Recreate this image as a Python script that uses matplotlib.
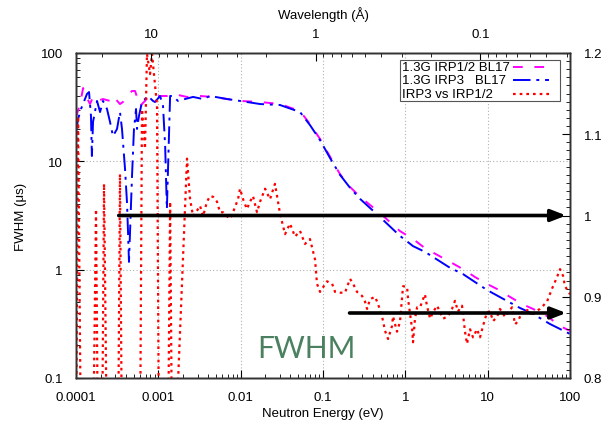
import numpy as np
import matplotlib
matplotlib.use("Agg")
import matplotlib.pyplot as plt
from matplotlib.lines import Line2D
from matplotlib.patches import Rectangle
from matplotlib.ticker import FixedLocator, MultipleLocator, FuncFormatter, NullFormatter

plt.rcParams['font.family'] = ['Liberation Sans', 'DejaVu Sans']

# 1.3G IRP1/2 BL17 (magenta dashed)
e_irp12 = [1.0e-4, 1.12e-4, 1.22e-4, 1.32e-4, 1.48e-4, 1.61e-4, 1.80e-4, 2.13e-4,
           2.59e-4, 2.81e-4, 3.42e-4, 3.72e-4, 4.16e-4, 4.79e-4, 5.21e-4, 5.99e-4,
           6.89e-4, 7.49e-4, 8.61e-4, 1.05e-3, 1.27e-3, 1.51e-3, 2.23e-3, 3.21e-3,
           4.62e-3, 6.83e-3, 9.82e-3, 1.72e-2, 3.01e-2, 5.26e-2, 6.95e-2, 9.20e-2,
           0.122, 0.161, 0.213, 0.282, 0.492, 0.861, 1.24, 1.73, 3.49, 5.02, 7.02,
           9.82, 13.0, 18.7, 26.1, 35.6, 52.6, 75.7, 100.0]
fwhm_irp12 = [25.6, 33.8, 47.5, 40.1, 33.8, 39.3, 36.1, 37.6,
              36.1, 40.1, 33.8, 35.3, 40.1, 44.6, 44.6, 32.4,
              36.1, 39.3, 39.3, 40.1, 40.1, 41.9, 39.3, 40.1,
              39.3, 37.6, 36.1, 35.3, 33.8, 29.1, 22.1, 16.1,
              11.0, 7.6, 5.8, 4.7, 3.33, 2.27, 1.92, 1.58, 1.18, 1.01, 0.855,
              0.738, 0.663, 0.560, 0.482, 0.434, 0.373, 0.302, 0.272]

# 1.3G IRP3 BL17 (blue dash-dot)
e_irp3 = [1.0e-4, 1.06e-4, 1.15e-4, 1.36e-4, 1.44e-4, 1.52e-4, 1.56e-4, 1.61e-4,
          1.80e-4, 1.96e-4, 2.13e-4, 2.38e-4, 2.59e-4, 2.81e-4, 3.15e-4, 3.42e-4,
          3.62e-4, 3.94e-4, 4.16e-4, 4.28e-4, 4.40e-4, 4.79e-4, 5.06e-4, 5.36e-4,
          5.51e-4, 5.82e-4, 6.33e-4, 6.89e-4, 7.49e-4, 8.61e-4, 9.11e-4, 1.05e-3,
          1.14e-3, 1.21e-3, 1.27e-3, 1.39e-3, 1.51e-3, 1.73e-3, 2.11e-3, 2.64e-3,
          3.49e-3, 4.25e-3, 6.83e-3, 9.82e-3, 1.72e-2, 3.01e-2, 5.26e-2, 6.95e-2,
          9.20e-2, 0.122, 0.161, 0.213, 0.282, 0.492, 0.861, 1.24, 1.73, 3.49,
          5.02, 9.82, 17.2, 24.7, 35.6, 57.2, 100.0]
fwhm_irp3 = [18.7, 24.6, 30.4, 41.9, 43.6, 26.2, 11.2, 23.1,
             36.1, 28.5, 36.1, 30.4, 23.1, 17.1, 19.9, 28.5,
             19.9, 8.5, 4.2, 2.27, 1.18, 7.3, 19.9, 30.4,
             19.9, 26.2, 35.3, 37.6, 40.1, 36.1, 35.3, 40.1,
             32.4, 13.9, 3.63, 40.1, 40.1, 36.1, 37.6, 39.3,
             37.6, 40.1, 37.6, 36.1, 33.8, 33.1, 28.5, 21.6,
             15.7, 10.7, 7.5, 5.7, 4.5, 3.06, 2.05, 1.65, 1.46, 1.04,
             0.91, 0.649, 0.514, 0.443, 0.390, 0.315, 0.255]

# IRP3 vs IRP1/2 ratio (red dotted, right axis)
e_ratio = [1.0e-4, 1.06e-4, 1.15e-4, 1.61e-4, 1.75e-4, 1.85e-4, 2.07e-4, 2.19e-4,
           2.38e-4, 3.24e-4, 3.42e-4, 3.62e-4, 5.99e-4, 6.33e-4, 6.89e-4, 7.28e-4,
           7.93e-4, 8.38e-4, 9.64e-4, 1.02e-3, 1.31e-3, 1.39e-3, 1.47e-3, 1.59e-3,
           2.23e-3, 2.43e-3, 2.64e-3, 2.95e-3, 3.21e-3, 3.49e-3, 3.90e-3, 4.25e-3,
           4.62e-3, 5.16e-3, 5.61e-3, 6.11e-3, 6.83e-3, 7.43e-3, 8.07e-3, 9.29e-3,
           9.82e-3, 1.07e-2, 1.19e-2, 1.30e-2, 1.41e-2, 1.58e-2, 1.72e-2, 1.98e-2,
           2.27e-2, 2.61e-2, 3.01e-2, 3.46e-2, 3.97e-2, 4.57e-2, 5.26e-2, 6.04e-2,
           6.95e-2, 8.00e-2, 8.45e-2, 9.20e-2, 0.112, 0.129, 0.140, 0.161, 0.185,
           0.213, 0.232, 0.259, 0.298, 0.324, 0.343, 0.373, 0.429, 0.466, 0.521,
           0.567, 0.617, 0.689, 0.708, 0.792, 0.861, 0.938, 1.05, 1.08, 1.21, 1.24,
           1.31, 1.39, 1.51, 1.64, 1.73, 1.83, 2.00, 2.17, 2.43, 2.64, 2.87, 3.30,
           3.69, 4.01, 4.36, 4.88, 5.31, 5.61, 6.11, 6.64, 7.43, 8.07, 8.78, 9.82,
           10.7, 11.6, 13.0, 14.1, 16.3, 17.7, 19.8, 21.5, 23.4, 26.1, 28.4, 30.9,
           34.6, 37.6, 43.3, 52.6, 60.5, 69.5, 75.7, 82.2, 86.9, 94.6, 100.0]
ratio = [0.70, 1.122, 0.70, 0.70, 1.008, 0.70, 0.70, 1.039,
         0.70, 0.70, 1.051, 0.70, 0.70, 1.131, 1.082, 1.199,
         1.174, 1.199, 1.135, 0.70, 0.70, 1.017, 0.70, 0.70,
         1.070, 1.020, 0.999, 1.006, 1.012, 0.999, 1.017, 1.024,
         1.023, 1.017, 1.004, 1.004, 0.999, 0.996, 1.004, 1.020,
         1.033, 1.020, 1.008, 1.017, 1.024, 1.004, 1.017, 1.033,
         1.020, 1.039, 1.002, 0.977, 0.990, 0.974, 0.981, 0.965,
         0.971, 0.946, 0.916, 0.906, 0.919, 0.916, 0.906, 0.905, 0.905,
         0.922, 0.916, 0.906, 0.901, 0.894, 0.885, 0.897, 0.900, 0.891, 0.876,
         0.858, 0.848, 0.864, 0.876, 0.857, 0.869, 0.913, 0.912, 0.897, 0.860, 0.844,
         0.873, 0.887, 0.887, 0.897, 0.903, 0.889, 0.873, 0.881, 0.889, 0.881, 0.873, 0.876,
         0.885, 0.895, 0.882, 0.889, 0.857, 0.842, 0.860, 0.850, 0.860, 0.850, 0.864, 0.881,
         0.882, 0.870, 0.875, 0.885, 0.875, 0.881, 0.887, 0.866, 0.870, 0.881, 0.879, 0.885,
         0.876, 0.882, 0.885, 0.894, 0.910, 0.924, 0.934, 0.926, 0.913, 0.907, 0.903]

# reference levels marked by arrows on the ratio axis
arrow_levels = [1.0, 0.88]
arrow_start = [3.3e-4, 0.21]
arrow_end = 90.0

# axis ticks
energy_major = [1e-4, 1e-3, 1e-2, 1e-1, 1, 10, 100]
fwhm_major = [0.1, 1, 10, 100]
wl_major = [10, 1, 0.1]
wl_minor = [20, 9, 8, 7, 6, 5, 4, 3, 2, 0.9, 0.8, 0.7, 0.6, 0.5, 0.4, 0.3, 0.2,
            0.09, 0.08, 0.07, 0.06, 0.05, 0.04, 0.03]

def wl_to_energy(wl):
    # E[eV] = 0.0818 / lambda[A]^2
    return 0.0818 / np.asarray(wl, dtype=float) ** 2

def decade_minors(majors):
    return [m * k for m in majors[:-1] for k in range(2, 10)]

fs = 9.5
W, H = 605, 427
x0, x1, y0, y1 = 76, 570, 54, 379

# line styles shared by the curves and the key
sty_irp12 = dict(color='#ff00ff', linestyle=(0, (5, 6)), lw=1.4)
sty_irp3 = dict(color='#0000ff', linestyle=(0, (9, 3, 1.5, 3)), lw=1.4)
sty_ratio = dict(color='#ff0000', linestyle=(0, (1.2, 1.8)), lw=1.6)

fig = plt.figure(figsize=(W / 100, H / 100), dpi=100)
ax = fig.add_axes([x0 / W, 1 - y1 / H, (x1 - x0) / W, (y1 - y0) / H])
ax2 = ax.twinx()
ax3 = ax.twiny()

ax.set_xscale('log')
ax.set_yscale('log')
ax.set_xlim(1e-4, 100)
ax.set_ylim(0.1, 100)
ax2.set_ylim(0.8, 1.2)

ax.plot(e_irp12, fwhm_irp12, **sty_irp12)
ax.plot(e_irp3, fwhm_irp3, **sty_irp3)
ax2.plot(e_ratio, ratio, **sty_ratio)

for lev, st in zip(arrow_levels, arrow_start):
    ax2.annotate('', xy=(arrow_end, lev), xytext=(st, lev),
                 arrowprops=dict(arrowstyle='-|>,head_length=0.9,head_width=0.35',
                                 lw=2.6, color='black', shrinkA=0, shrinkB=0))

fmt = FuncFormatter(lambda v, p: '%g' % v)

ax.xaxis.set_major_locator(FixedLocator(energy_major))
ax.xaxis.set_minor_locator(FixedLocator(decade_minors(energy_major)))
ax.yaxis.set_major_locator(FixedLocator(fwhm_major))
ax.yaxis.set_minor_locator(FixedLocator(decade_minors(fwhm_major)))
ax.xaxis.set_major_formatter(fmt)
ax.yaxis.set_major_formatter(fmt)
ax.xaxis.set_minor_formatter(NullFormatter())
ax.yaxis.set_minor_formatter(NullFormatter())
ax.tick_params(axis='both', which='both', direction='in', labelsize=fs, pad=9.5)
ax.tick_params(axis='x', which='both', top=False)
ax.tick_params(which='major', length=6, width=0.8)
ax.tick_params(which='minor', length=3, width=0.6)
ax.grid(True, which='major', color='#b0b0b0', linestyle=(0, (1, 2)), linewidth=0.8)

ax2.yaxis.set_major_locator(MultipleLocator(0.1))
ax2.yaxis.set_minor_locator(MultipleLocator(0.01))
ax2.yaxis.set_major_formatter(FuncFormatter(lambda v, p: '%g' % round(v, 2)))
ax2.tick_params(axis='y', which='both', direction='in', labelsize=fs, pad=10)
ax2.tick_params(which='major', length=6, width=0.8)
ax2.tick_params(which='minor', length=3, width=0.6)

# top axis: wavelength placed at the matching energies
ax3.set_xscale('log')
ax3.set_xlim(ax.get_xlim())
ax3.xaxis.set_major_locator(FixedLocator(wl_to_energy(wl_major)))
ax3.xaxis.set_minor_locator(FixedLocator(wl_to_energy(wl_minor)))
ax3.xaxis.set_major_formatter(FuncFormatter(lambda v, p: '%g' % round(np.sqrt(0.0818 / v), 3)))
ax3.xaxis.set_minor_formatter(NullFormatter())
ax3.tick_params(axis='x', which='both', direction='in', labelsize=fs, pad=9.5)
ax3.tick_params(which='major', length=6, width=0.8)
ax3.tick_params(which='minor', length=3, width=0.6)
ax3.set_xlabel('Wavelength (Å)', fontsize=fs, labelpad=7)

ax.set_xlabel('Neutron Energy (eV)', fontsize=fs, labelpad=2.5)
ax.set_ylabel('FWHM (μs)', fontsize=fs, labelpad=10)

for a in (ax, ax2, ax3):
    for s in a.spines.values():
        s.set_linewidth(1.0)
        s.set_color('#333333')

# key box: labels left-aligned, line samples on the right
fig.add_artist(Rectangle((400 / W, 1 - 102 / H), 160 / W, 41 / H, transform=fig.transFigure,
                         facecolor='white', edgecolor='#555555', linewidth=0.8, zorder=4))
key = [('1.3G IRP1/2 BL17', sty_irp12), ('1.3G IRP3   BL17', sty_irp3),
       ('IRP3 vs IRP1/2', sty_ratio)]
for i, (lab, sty) in enumerate(key):
    yy = 1 - (68 + 13.3 * i) / H
    fig.text(402 / W, yy, lab, fontsize=fs, ha='left', va='center', zorder=5)
    fig.add_artist(Line2D([513 / W, 549 / W], [yy, yy], transform=fig.transFigure,
                          zorder=5, **sty))

fig.text(306 / W, 1 - 349 / H, 'FWHM', color='#4b8160', fontsize=21.5, family='Lato',
         ha='center', va='center')

fig.savefig('out.png', dpi=100)
